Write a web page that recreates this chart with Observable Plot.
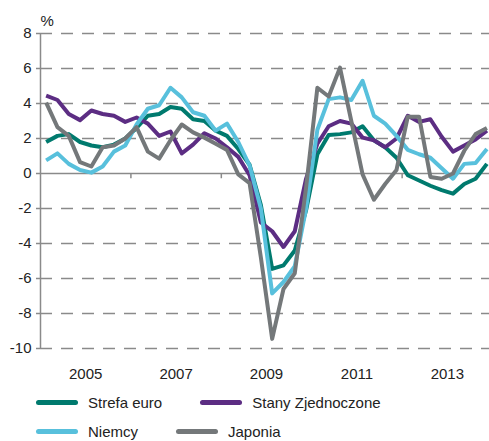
<!DOCTYPE html>
<html><head><meta charset="utf-8">
<script src="https://cdn.jsdelivr.net/npm/d3@7"></script>
<script src="https://cdn.jsdelivr.net/npm/@observablehq/plot@0.6"></script>
<style>
body{margin:0;background:#fff;font-family:"Liberation Sans",Arial,sans-serif;}
#legend{width:489px;padding-left:36px;box-sizing:border-box;font-size:15px;color:#222;}
.row{height:29px;display:flex;align-items:center;}
.item{display:flex;align-items:center;margin-right:38px;}
.sw{width:42px;height:5px;border-radius:3px;margin-right:10px;}
</style></head><body>
<div id="chart"></div><div id="legend"></div>
<script>
const years = [2004,2005,2006,2007,2008,2009,2010,2011,2012,2013];
const quarters = years.flatMap(y => ["Q1","Q2","Q3","Q4"].map(q => y + q));

const strefaEuro = [1.8,2.15,2.25,1.8,1.6,1.5,1.65,2.0,2.6,3.3,3.4,3.8,3.7,3.1,3.0,2.45,2.15,1.4,0.5,-1.8,-5.45,-5.25,-4.4,-2.1,1.1,2.2,2.25,2.35,2.7,1.9,1.5,0.9,-0.1,-0.4,-0.7,-0.95,-1.15,-0.6,-0.3,0.55];
const stanyZjednoczone = [4.45,4.2,3.4,3.05,3.6,3.4,3.3,2.95,3.2,2.85,2.15,2.4,1.15,1.65,2.3,2.0,1.5,0.95,-0.1,-2.8,-3.3,-4.2,-3.3,-0.3,1.7,2.7,3.0,2.85,2.05,1.9,1.5,2.0,3.3,2.95,3.1,2.1,1.25,1.6,1.95,2.45];
const niemcy = [0.75,1.15,0.55,0.2,0.05,0.4,1.25,1.6,2.8,3.7,3.9,4.9,4.35,3.5,3.3,2.45,2.85,1.8,0.45,-2.0,-6.85,-6.2,-5.3,-2.0,2.5,4.25,4.35,4.2,5.3,3.3,2.85,2.15,1.35,1.1,0.9,0.3,-0.3,0.55,0.6,1.4];
const japonia = [4.05,2.65,2.15,0.65,0.4,1.5,1.6,2.0,2.65,1.25,0.85,1.9,2.8,2.35,2.05,1.7,1.35,-0.05,-0.55,-4.8,-9.45,-6.6,-5.7,-0.8,4.9,4.4,6.05,3.0,-0.05,-1.5,-0.6,0.2,3.25,3.25,-0.2,-0.3,0.0,1.3,2.25,2.6];

const seriesNames = ["Strefa euro","Stany Zjednoczone","Niemcy","Japonia"];
const seriesValues = [strefaEuro, stanyZjednoczone, niemcy, japonia];
const colors = ["#007a6e","#5c2d83","#58c0dc","#74787a"];
const yTicks = [-10,-8,-6,-4,-2,0,2,4,6,8];
const yearLabels = ["2005","2007","2009","2011","2013"];
const tickYears = ["2006","2008","2010","2012"];
const unitLabel = "%";

const data = seriesNames.flatMap((s, k) => seriesValues[k].map((v, i) => ({series: s, i, q: quarters[i], value: v})));
const labelPos = yearLabels.map(y => ({label: y, x: quarters.indexOf((+y - 1) + "Q1") + 3.5}));
const tickPos = tickYears.map(y => quarters.indexOf(y + "Q1") - 0.5);

const grid = "#8a8a8a";
const chart = Plot.plot({
  width: 489, height: 388,
  marginLeft: 40, marginRight: 0, marginTop: 33, marginBottom: 40,
  style: {fontFamily: '"Liberation Sans", Arial, sans-serif', fontSize: "15px", color: "#222", background: "#fff"},
  x: {domain: [-0.5, 39.23], axis: null},
  y: {domain: [-10, 8], axis: null},
  color: {domain: seriesNames, range: colors},
  marks: [
    Plot.ruleY(yTicks.filter(t => t !== 0), {x1: -0.5, x2: 39.23, stroke: grid, strokeWidth: 1.5, strokeDasharray: "12,9"}),
    Plot.ruleY([0], {x1: -0.5, x2: 39.23, stroke: grid, strokeWidth: 1.5}),
    Plot.ruleX(tickPos, {y1: 0, y2: -0.3, stroke: grid, strokeWidth: 1.5}),
    Plot.ruleX([-0.5], {y1: -10, y2: 8, stroke: grid, strokeWidth: 1.5}),
    Plot.axisY({ticks: yTicks, tickSize: 4, tickPadding: 5, stroke: grid, strokeWidth: 1.5, fontSize: 15, label: null, tickFormat: d => String(d)}),
    Plot.line(data, {x: "i", y: "value", z: "series", stroke: "series", strokeWidth: 4, strokeLinejoin: "round", strokeLinecap: "butt"}),
    Plot.text(labelPos, {x: "x", y: () => -10, text: "label", dy: 26, lineAnchor: "middle", fontSize: 15, fill: "#222"}),
    Plot.text([unitLabel], {x: () => -0.5, y: () => 8, text: d => d, textAnchor: "start", lineAnchor: "bottom", dy: -8, fontSize: 15, fill: "#222"})
  ]
});
document.getElementById("chart").appendChild(chart);

const legendRows = [[0,1],[2,3]];
const leg = document.getElementById("legend");
legendRows.forEach(r => {
  const row = document.createElement("div"); row.className = "row";
  r.forEach(k => {
    const it = document.createElement("div"); it.className = "item";
    const sw = document.createElement("span"); sw.className = "sw"; sw.style.background = colors[k];
    const tx = document.createElement("span"); tx.textContent = seriesNames[k];
    it.appendChild(sw); it.appendChild(tx); row.appendChild(it);
  });
  leg.appendChild(row);
});
</script></body></html>
